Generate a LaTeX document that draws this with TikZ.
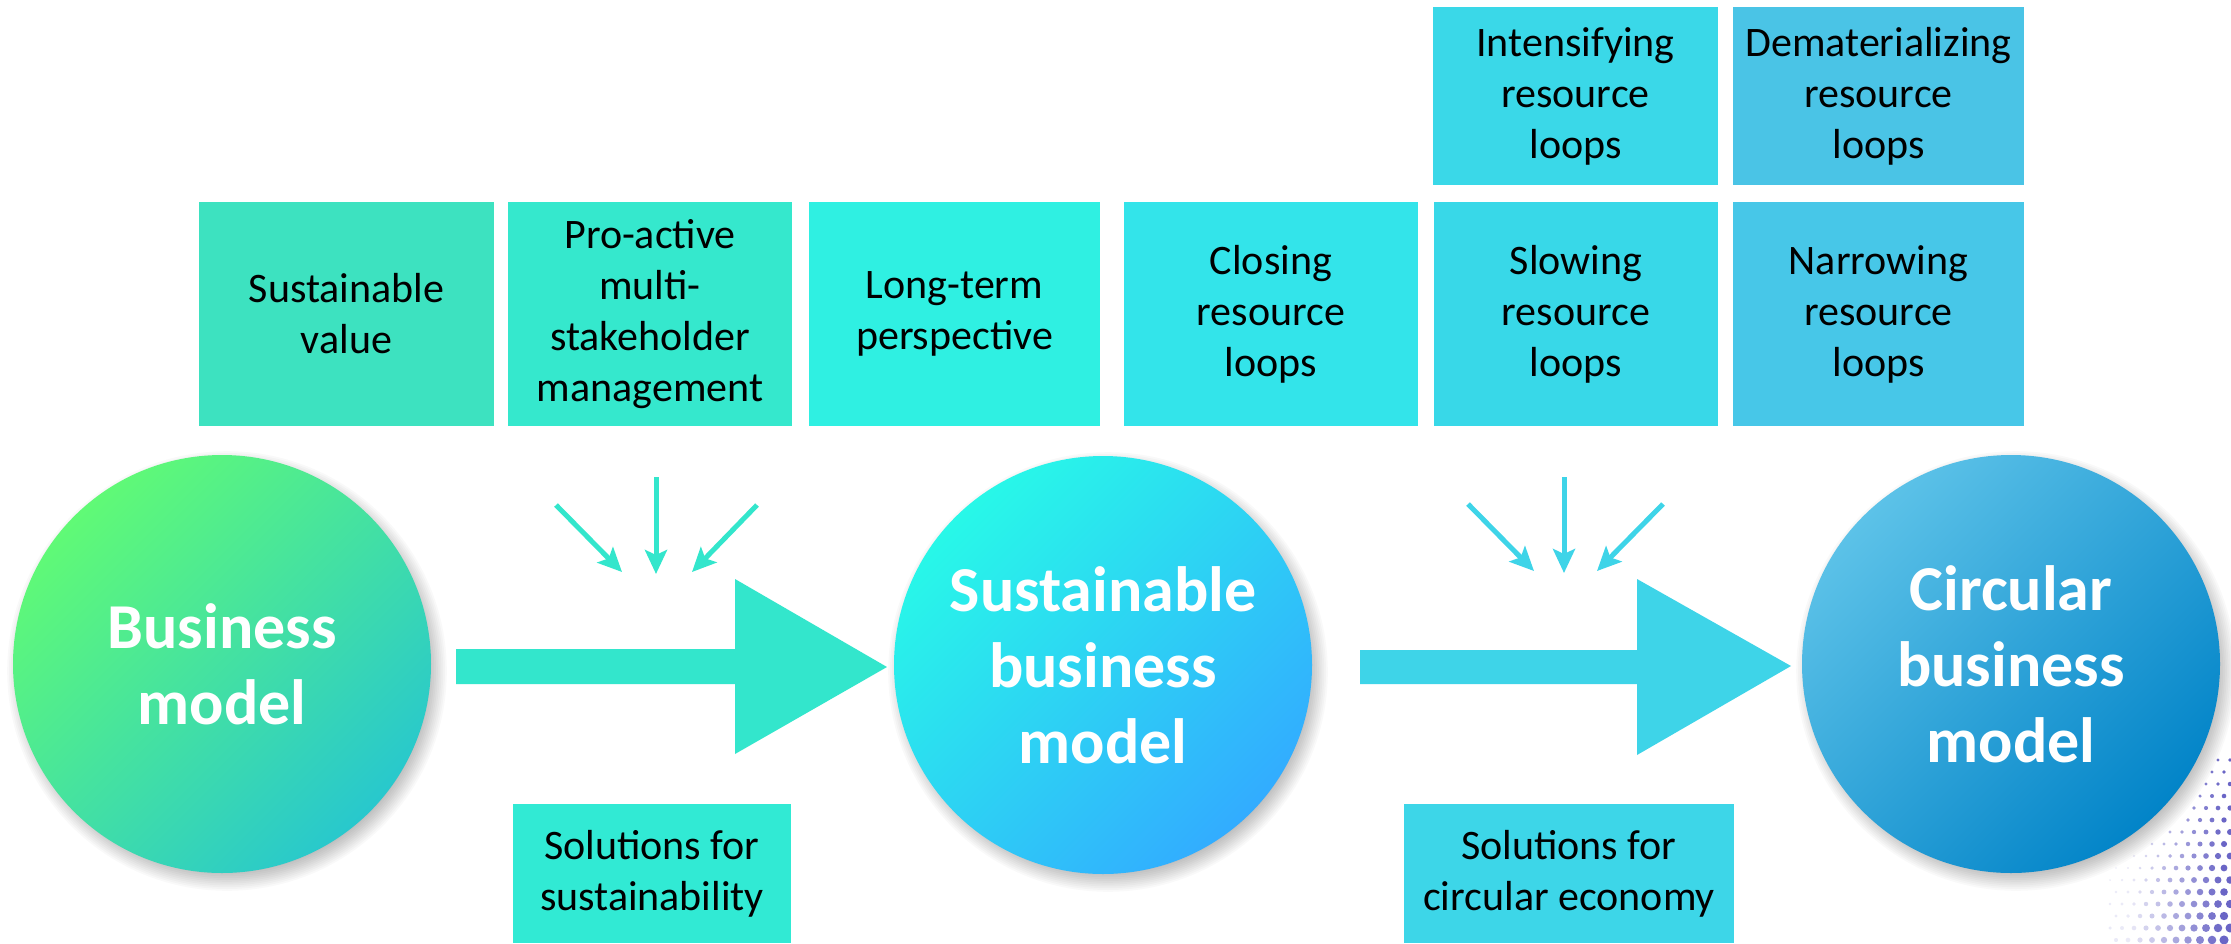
\documentclass[tikz,border=0pt]{standalone}
\usepackage{fontspec}
\setmainfont{Carlito}
\usetikzlibrary{arrows.meta}
\definecolor{cSV}{HTML}{3DE2C0}
\definecolor{cPA}{HTML}{35E8CD}
\definecolor{cLT}{HTML}{2FF0E2}
\definecolor{cCL}{HTML}{33E4EA}
\definecolor{cSL}{HTML}{38D8E8}
\definecolor{cNA}{HTML}{47C7E8}
\definecolor{cIN}{HTML}{3AD8E8}
\definecolor{cDE}{HTML}{4AC4E6}
\definecolor{cSS}{HTML}{31EAD4}
\definecolor{cSC}{HTML}{3DD6E8}
\definecolor{arrA}{HTML}{33E6CC}
\definecolor{arrB}{HTML}{3ED4E8}
\definecolor{dotc}{HTML}{5A55C0}
\begin{document}
\begin{tikzpicture}[x=1pt,y=-1pt,
  box/.style={inner sep=0pt, align=center, text=black,
    font=\fontsize{42}{51}\selectfont},
  ball/.style={circle, inner sep=0pt, minimum size=418pt, align=center,
    text=white, font=\bfseries\fontsize{64}{76}\selectfont},
  softshadow/.style={fill=black, opacity=0.022},
  smallA/.style={draw=arrA, line width=5pt, -{Stealth[length=24pt,width=22pt,inset=5pt]}},
  smallB/.style={draw=arrB, line width=5pt, -{Stealth[length=24pt,width=22pt,inset=5pt]}}
]
\useasboundingbox (0,0) rectangle (2231,943);
\fill[white] (0,0) rectangle (2231,943);

% halftone dots in the lower right corner
\foreach \i in {0,...,10} {
  \foreach \j in {0,...,15} {
    \pgfmathsetmacro\px{2110+\i*12+mod(\j,2)*6}
    \pgfmathsetmacro\py{760+\j*12}
    \pgfmathsetmacro\dd{veclen(\px-2011,\py-663)}
    \pgfmathsetmacro\rr{max(0,((\px-2100)/130+(\py-750)/190)*3.0-1.3)}
    \pgfmathsetmacro\op{min(0.9,max(0.12,(\px-2115)/120))}
    \ifdim\dd pt>228pt
      \fill[dotc, opacity=\op] (\px,\py) circle[radius=\rr pt];
    \fi
  }
}

% top row boxes
\node[box, minimum width=295pt, minimum height=224pt, fill=cSV] (sv) at (346.5,314) {Sustainable\\value};
\node[box, minimum width=284pt, minimum height=224pt, fill=cPA] (pa) at (650,314) {Pro-active\\multi-\\stakeholder\\management};
\node[box, minimum width=291pt, minimum height=224pt, fill=cLT] (lt) at (954.5,314) {Long-term\\perspective};
\node[box, minimum width=294pt, minimum height=224pt, fill=cCL] (cl) at (1271,314) {Closing\\resource\\loops};
\node[box, minimum width=284pt, minimum height=224pt, fill=cSL] (sl) at (1576,314) {Slowing\\resource\\loops};
\node[box, minimum width=291pt, minimum height=224pt, fill=cNA] (na) at (1878.5,314) {Narrowing\\resource\\loops};
\node[box, minimum width=285pt, minimum height=178pt, fill=cIN] (in) at (1575.5,96) {Intensifying\\resource\\loops};
\node[box, minimum width=291pt, minimum height=178pt, fill=cDE] (de) at (1878.5,96) {Dematerializing\\resource\\loops};

% bottom boxes
\node[box, minimum width=278pt, minimum height=139pt, fill=cSS] (ss) at (652,873.5) {Solutions for\\sustainability};
\node[box, minimum width=330pt, minimum height=139pt, fill=cSC] (sc) at (1569,873.5) {Solutions for\\circular economy};

% soft shadows behind the circles
\foreach \cx/\cy in {222/664, 1103/665, 2011/664} {
  \foreach \k in {0,...,11} {
    \fill[softshadow] (\cx+5,\cy+7) circle[radius=200pt+\k*1.8pt];
  }
}

% circles
\node[ball, top color={rgb,255:red,96;green,250;blue,118}, bottom color={rgb,255:red,40;green,200;blue,205}, shading angle=45] (bm) at (222,664) {Business\\model};
\node[ball, top color={rgb,255:red,40;green,248;blue,232}, bottom color={rgb,255:red,50;green,172;blue,255}, shading angle=45] (sbm) at (1103,665) {Sustainable\\business\\model};
\node[ball, top color={rgb,255:red,92;green,194;blue,232}, bottom color={rgb,255:red,2;green,132;blue,200}, shading angle=45] (cbm) at (2011,664) {Circular\\business\\model};

% big arrows
\fill[arrA] (456,649) -- (735,649) -- (735,579) -- (887,667) -- (735,754) -- (735,684) -- (456,684) -- cycle;
\fill[arrB] (1360,650) -- (1637,650) -- (1637,579) -- (1791,666) -- (1637,755) -- (1637,684) -- (1360,684) -- cycle;

% small converging arrows
\coordinate (a1ls) at (556,505); \coordinate (a1le) at (622,572);
\coordinate (a1ms) at (656,477); \coordinate (a1me) at (656,574);
\coordinate (a1rs) at (757,505); \coordinate (a1re) at (692,572);
\draw[smallA] (a1ls) -- (a1le);
\draw[smallA] (a1ms) -- (a1me);
\draw[smallA] (a1rs) -- (a1re);
\coordinate (a2ls) at (1468,504); \coordinate (a2le) at (1534,571);
\coordinate (a2ms) at (1564,477); \coordinate (a2me) at (1564,573);
\coordinate (a2rs) at (1663,504); \coordinate (a2re) at (1597,571);
\draw[smallB] (a2ls) -- (a2le);
\draw[smallB] (a2ms) -- (a2me);
\draw[smallB] (a2rs) -- (a2re);
\end{tikzpicture}
\end{document}
